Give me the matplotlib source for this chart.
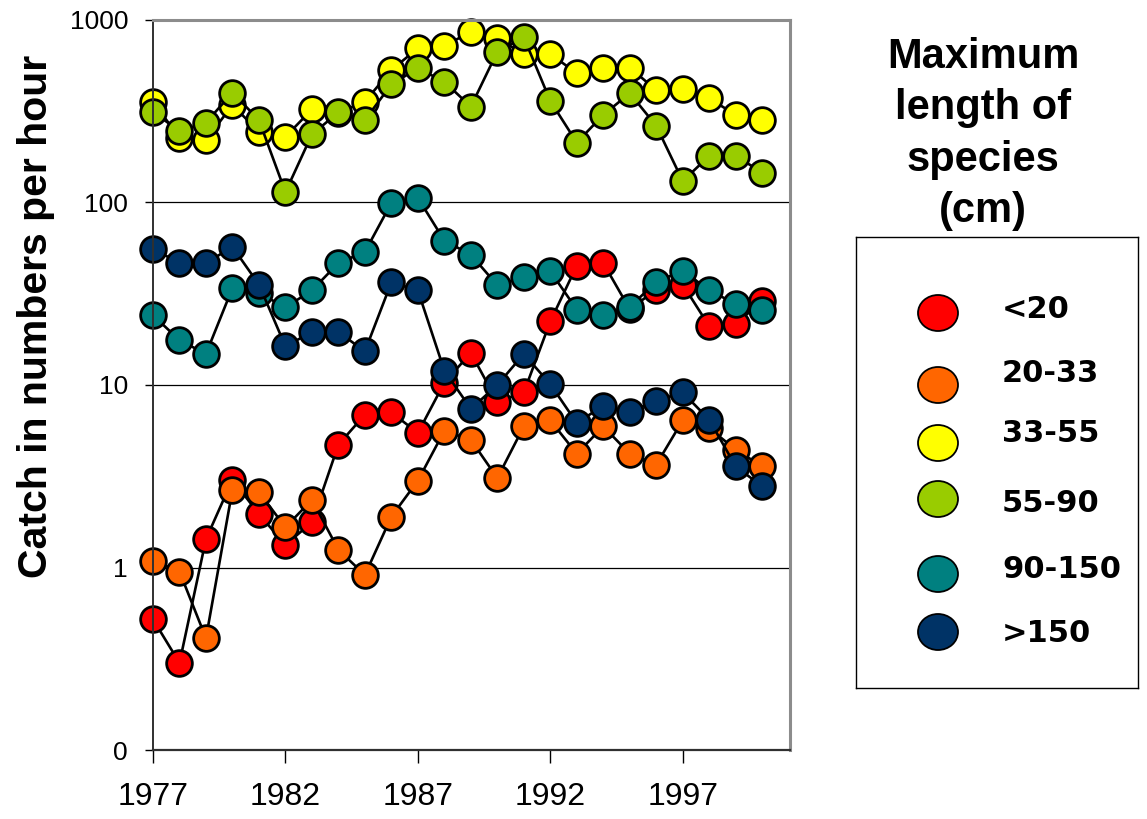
import matplotlib
matplotlib.use("Agg")
import matplotlib.pyplot as plt
from matplotlib.patches import Ellipse
from matplotlib.ticker import FixedLocator, FixedFormatter, NullLocator

# Survey years
years = list(range(1977, 2001))

# Catch in numbers per hour, by maximum length class of species
catch_lt20 = [0.52, 0.30, 1.43, 3.03, 1.96, 1.33, 1.77, 4.71, 6.88, 7.08, 5.46, 10.3,
              15.0, 8.1, 9.1, 22.3, 45.1, 46.6, 26.0, 33.3, 35.5, 21.0, 21.7, 28.7]
catch_20_33 = [1.09, 0.95, 0.41, 2.67, 2.59, 1.66, 2.35, 1.25, 0.91, 1.90, 2.99, 5.61,
               5.01, 3.09, 5.93, 6.4, 4.2, 5.93, 4.2, 3.66, 6.4, 5.8, 4.42, 3.58]
catch_33_55 = [357, 226, 220, 342, 244, 229, 324, 310, 357, 532, 700, 720,
               863, 794, 651, 651, 511, 548, 548, 413, 417, 372, 302, 283]
catch_55_90 = [314, 246, 274, 400, 283, 114, 236, 312, 283, 444, 544, 459,
               335, 670, 804, 360, 213, 302, 397, 263, 131, 180, 180, 146]
catch_90_150 = [24.1, 17.6, 14.8, 34.0, 31.9, 26.6, 33.0, 46.6, 53.6, 99.5, 106, 61.8,
                51.8, 35.2, 39.1, 42.0, 25.9, 24.3, 26.8, 36.7, 42.3, 33.0, 27.8, 25.9]
catch_gt150 = [55.7, 46.6, 46.6, 57.1, 35.5, 16.3, 19.5, 19.5, 15.3, 36.5, 33.0, 12.0,
               7.4, 10.0, 14.8, 10.1, 6.19, 7.7, 7.1, 8.2, 9.1, 6.45, 3.58, 2.78]

class_labels = ["<20", "20-33", "33-55", "55-90", "90-150", ">150"]
class_colors = ["#FF0000", "#FF6600", "#FFFF00", "#99CC00", "#008080", "#003366"]
series = [catch_lt20, catch_20_33, catch_33_55, catch_55_90, catch_90_150, catch_gt150]

y_ticks = [0.1, 1, 10, 100, 1000]
y_tick_labels = ["0", "1", "10", "100", "1000"]
x_ticks = [1977, 1982, 1987, 1992, 1997]

W, H = 1147, 819
fig = plt.figure(figsize=(W / 100, H / 100), dpi=100)
fig.patch.set_facecolor("white")


def fx(px):
    return px / W


def fy(py):
    return 1 - py / H


ax = fig.add_axes([fx(153), fy(750), fx(790 - 153), (750 - 20) / H])
ax.set_yscale("log")
ax.set_ylim(0.1, 1000)
ax.set_xlim(1977, 2001.05)

for vals, col in zip(series, class_colors):
    ax.plot(years, vals, color="black", linewidth=1.9, marker="o", markersize=18.5,
            markerfacecolor=col, markeredgecolor="black", markeredgewidth=2.0,
            clip_on=False)

# horizontal gridlines at each decade
for g in [1, 10, 100]:
    ax.axhline(g, color="black", linewidth=0.9, zorder=0)

ax.yaxis.set_major_locator(FixedLocator(y_ticks))
ax.yaxis.set_major_formatter(FixedFormatter(y_tick_labels))
ax.yaxis.set_minor_locator(NullLocator())
ax.xaxis.set_major_locator(FixedLocator(x_ticks))
ax.xaxis.set_minor_locator(NullLocator())

ax.tick_params(axis="y", direction="out", length=6, width=1, pad=12,
               labelsize=19, labelfontfamily="Liberation Sans")
ax.tick_params(axis="x", direction="out", length=9, width=1, pad=14,
               labelsize=23, labelfontfamily="Liberation Sans")

ax.spines["left"].set_color("#303030")
ax.spines["left"].set_linewidth(1.4)
ax.spines["bottom"].set_color("#303030")
ax.spines["bottom"].set_linewidth(1.6)
for s in ["top", "right"]:
    ax.spines[s].set_color("#8c8c8c")
    ax.spines[s].set_linewidth(2.2)

fig.text(fx(36), fy(316), "Catch in numbers per hour", rotation=90,
         ha="center", va="center", fontsize=29.5, fontweight="bold",
         family="Liberation Sans")

# legend title
fig.text(fx(983), fy(134), "Maximum\nlength of\nspecies\n(cm)", ha="center",
         va="center", fontsize=30, fontweight="bold", family="Liberation Sans",
         linespacing=1.36)

# legend box with one ellipse per length class
lax = fig.add_axes([fx(856), fy(688), fx(1138 - 856), (688 - 237) / H])
lax.set_xlim(856, 1138)
lax.set_ylim(688, 237)
lax.set_xticks([])
lax.set_yticks([])
for s in lax.spines.values():
    s.set_color("black")
    s.set_linewidth(1.0)

marker_rows = [313, 385, 443, 499, 574, 632]
text_rows = [309, 373, 433, 503, 570, 633]
for lab, col, my, ty in zip(class_labels, class_colors, marker_rows, text_rows):
    lax.add_patch(Ellipse((938, my), 40, 36, facecolor=col, edgecolor="black",
                          linewidth=1.3))
    lax.text(1002, ty, lab, ha="left", va="center", fontsize=22,
             fontweight="bold", family="DejaVu Sans")

fig.savefig("out.png", dpi=100)
